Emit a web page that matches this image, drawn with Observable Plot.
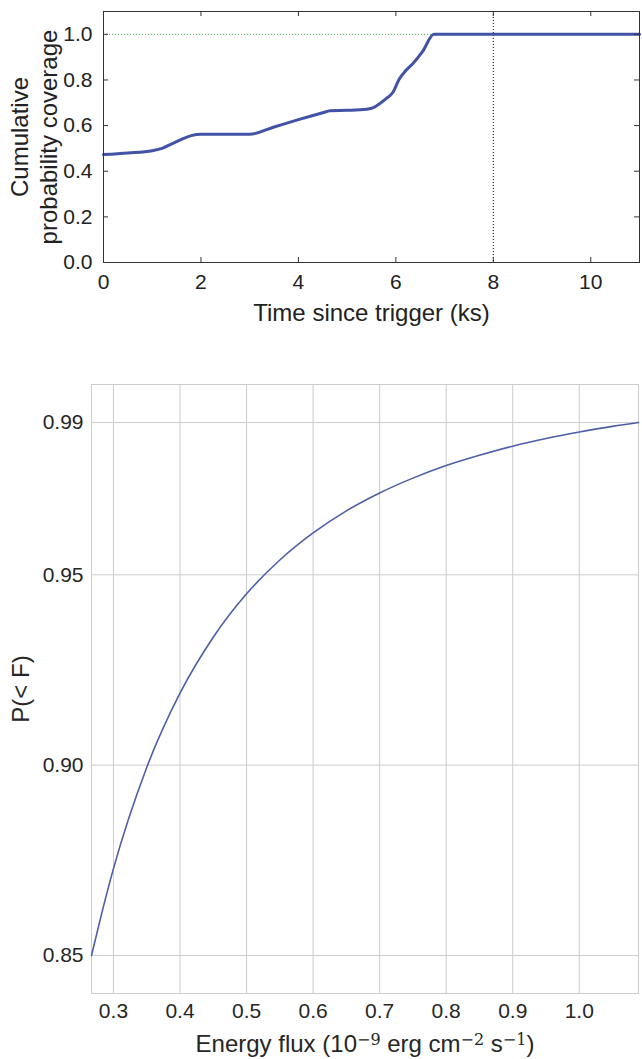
<!DOCTYPE html>
<html>
<head>
<meta charset="utf-8">
<script src="https://cdn.jsdelivr.net/npm/d3@7"></script>
<script src="https://cdn.jsdelivr.net/npm/@observablehq/plot@0.6"></script>
<style>
  html, body { margin: 0; padding: 0; background: #fff; }
  svg { display: block; }
</style>
</head>
<body>
<div id="top"></div>
<div id="bottom"></div>
<script>
// ---- Top panel data: cumulative probability coverage vs time since trigger (ks)
const timeKs   = [0, 0.5, 1.0, 1.2, 1.4, 1.6, 1.8, 2.0, 3.0, 3.5, 4.0, 4.5, 4.65, 5.0, 5.4, 5.55, 5.66, 5.8, 5.94, 6.07, 6.2, 6.35, 6.55, 6.78, 11];
const coverage = [0.473, 0.480, 0.490, 0.500, 0.520, 0.540, 0.556, 0.562, 0.562, 0.594, 0.626, 0.656, 0.665, 0.667, 0.672, 0.680, 0.695, 0.718, 0.746, 0.804, 0.840, 0.872, 0.925, 1.0, 1.0];
const topXTicks = [0, 2, 4, 6, 8, 10];
const topYTicks = [0.0, 0.2, 0.4, 0.6, 0.8, 1.0];
const fullCoverage = [1.0];
const markerTime = [8];
const topXLabel = "Time since trigger (ks)";
const topYLabel = "Cumulative\nprobability coverage";

// ---- Bottom panel data: P(<F) vs energy flux
const flux      = [0.267, 0.283, 0.3, 0.35, 0.4, 0.45, 0.5, 0.55, 0.6, 0.65, 0.7, 0.75, 0.8, 0.85, 0.9, 0.95, 1.0, 1.05, 1.089];
const probBelow = [0.850, 0.8615, 0.8728, 0.8994, 0.9189, 0.9336, 0.9450, 0.9539, 0.9610, 0.9668, 0.9715, 0.9754, 0.9787, 0.9814, 0.9838, 0.9858, 0.9875, 0.9890, 0.9900];
const botXTicks = [0.3, 0.4, 0.5, 0.6, 0.7, 0.8, 0.9, 1.0];
const botYTicks = [0.85, 0.90, 0.95, 0.99];
const botYLabel = "P(< F)";
const botXLabelParts = [["Energy flux (10", 0], ["\u22129", 1], [" erg cm", 0], ["\u22122", 1], [" s", 0], ["\u22121", 1], [")", 0]];

const FONT = "'Liberation Sans', Arial, Helvetica, sans-serif";
const TICK_FS = 21;
const LABEL_FS = 24;

// ---------------- Top chart ----------------
const topData = timeKs.map((t, i) => ({t, c: coverage[i]}));
const T = {W: 642, H: 340, mt: 11, mb: 78, ml: 103, mr: 3};
const tFW = T.W - T.ml - T.mr, tFH = T.H - T.mt - T.mb;
const tickLen = 5;
const topPlot = Plot.plot({
  width: T.W, height: T.H,
  marginTop: T.mt, marginBottom: T.mb, marginLeft: T.ml, marginRight: T.mr,
  style: {fontFamily: FONT, fontSize: TICK_FS + "px", background: "#fff", color: "#222", overflow: "visible"},
  x: {domain: [0, 11], axis: null},
  y: {domain: [0, 1.1], axis: null},
  marks: [
    Plot.ruleY(fullCoverage, {y: d => d, stroke: "#3cb043", strokeWidth: 1, strokeDasharray: "1,2"}),
    Plot.ruleX(markerTime, {x: d => d, stroke: "#111", strokeWidth: 1, strokeDasharray: "1,2"}),
    Plot.line(topData, {x: "t", y: "c", stroke: "#4252a6", strokeWidth: 3, curve: "monotone-x"}),
    // inward ticks on all four sides
    Plot.ruleX(topXTicks, {x: d => d, insetTop: tFH - tickLen, stroke: "#333"}),
    Plot.ruleX(topXTicks, {x: d => d, insetBottom: tFH - tickLen, stroke: "#333"}),
    Plot.ruleY(topYTicks, {y: d => d, insetRight: tFW - tickLen, stroke: "#333"}),
    Plot.ruleY(topYTicks, {y: d => d, insetLeft: tFW - tickLen, stroke: "#333"}),
    Plot.frame({stroke: "#333", strokeWidth: 1}),
    Plot.axisX(topXTicks, {tickSize: 0, tickPadding: 12, fontSize: TICK_FS, tickFormat: d => String(d), label: null, fill: "#222"}),
    Plot.axisY(topYTicks, {tickSize: 0, tickPadding: 11, fontSize: TICK_FS, tickFormat: d => d.toFixed(1), label: null, fill: "#222"}),
    Plot.text([topXLabel], {frameAnchor: "bottom", dy: 58, lineAnchor: "bottom", textAnchor: "middle", fontSize: LABEL_FS, fill: "#222", text: d => d}),
    Plot.text([topYLabel], {frameAnchor: "left", dx: -70, rotate: -90, textAnchor: "middle", lineAnchor: "middle", lineHeight: 1.17, fontSize: LABEL_FS, fill: "#222", text: d => d})
  ]
});
document.getElementById("top").appendChild(topPlot);

// ---------------- Bottom chart ----------------
const botData = flux.map((f, i) => ({f, p: probBelow[i]}));
const B = {W: 642, H: 719, mt: 44, mb: 66, ml: 91, mr: 4};
const botPlot = Plot.plot({
  width: B.W, height: B.H,
  marginTop: B.mt, marginBottom: B.mb, marginLeft: B.ml, marginRight: B.mr,
  style: {fontFamily: FONT, fontSize: TICK_FS + "px", background: "#fff", color: "#262626", overflow: "visible"},
  x: {domain: [0.267, 1.089], axis: null},
  y: {domain: [0.84, 1.0], axis: null},
  marks: [
    Plot.gridX(botXTicks, {stroke: "#cccccc", strokeOpacity: 1, strokeWidth: 1}),
    Plot.gridY(botYTicks, {stroke: "#cccccc", strokeOpacity: 1, strokeWidth: 1}),
    Plot.frame({stroke: "#cccccc", strokeWidth: 1}),
    Plot.line(botData, {x: "f", y: "p", stroke: "#4c5fa8", strokeWidth: 1.6, curve: "monotone-x"}),
    Plot.axisX(botXTicks, {tickSize: 0, tickPadding: 10, fontSize: TICK_FS, tickFormat: d => d.toFixed(1), label: null, fill: "#262626"}),
    Plot.axisY(botYTicks, {tickSize: 0, tickPadding: 8, fontSize: TICK_FS, tickFormat: d => d.toFixed(2), label: null, fill: "#262626"}),
    Plot.text([botXLabelParts.map(p => p[0]).join("")], {frameAnchor: "bottom", dy: 58, lineAnchor: "bottom", textAnchor: "middle", fontSize: LABEL_FS, fill: "#262626", text: d => d}),
    Plot.text([botYLabel], {frameAnchor: "left", dx: -70, rotate: -90, textAnchor: "middle", lineAnchor: "middle", fontSize: LABEL_FS, fill: "#262626", text: d => d})
  ]
});
document.getElementById("bottom").appendChild(botPlot);

// Render superscripts in the flux label with tspans
const fullLabel = botXLabelParts.map(p => p[0]).join("");
botPlot.querySelectorAll("text").forEach(el => {
  if (el.textContent === fullLabel) {
    while (el.firstChild) el.removeChild(el.firstChild);
    botXLabelParts.forEach(([s, sup]) => {
      const ts = document.createElementNS("http://www.w3.org/2000/svg", "tspan");
      ts.textContent = s;
      if (sup) {
        ts.setAttribute("font-size", "16");
        ts.setAttribute("baseline-shift", "45%");
        ts.setAttribute("font-family", "'DejaVu Serif', serif");
      }
      el.appendChild(ts);
    });
  }
});
</script>
</body>
</html>
